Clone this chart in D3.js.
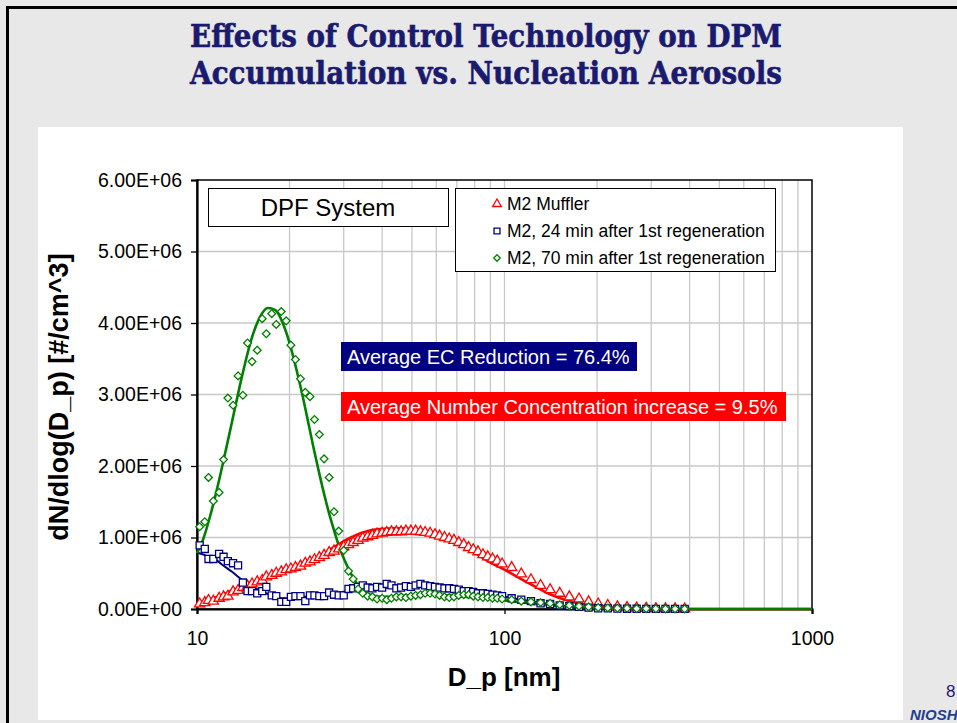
<!DOCTYPE html>
<html>
<head>
<meta charset="utf-8">
<script src="https://cdn.jsdelivr.net/npm/d3@7/dist/d3.min.js"></script>
<style>
  html, body { margin: 0; padding: 0; background: #e8e8e8; }
  svg { display: block; }
</style>
</head>
<body>
<svg></svg>
<script>
var width = 957;
var height = 723;

// SMPS channel mid-points [nm]
var dpChannels = [10.2, 10.6, 10.9, 11.3, 11.8, 12.2, 12.6, 13.1, 13.6, 14.1,
   14.6, 15.1, 15.7, 16.3, 16.8, 17.5, 18.1, 18.8, 19.5, 20.2,
   20.9, 21.7, 22.5, 23.3, 24.1, 25.0, 25.9, 26.9, 27.9, 28.9,
   30.0, 31.1, 32.2, 33.4, 34.6, 35.9, 37.2, 38.5, 40.0, 41.4,
   42.9, 44.5, 46.1, 47.8, 49.6, 51.4, 53.3, 55.2, 57.3, 59.4,
   61.5, 63.8, 66.1, 68.5, 71.0, 73.7, 76.4, 79.1, 82.0, 85.1,
   88.2, 91.4, 94.7, 98.2,
   105.5, 113.4, 121.9, 131.0, 140.7, 151.2, 162.5, 174.7, 187.7, 201.7,
   216.7, 232.9, 250.3, 269.0, 289.0, 310.6, 333.8, 358.7, 385.4];

// measured dN/dlog(Dp), in 1E+06 #/cm^3
var mufflerN = [0.07, 0.09, 0.12, 0.11, 0.15, 0.17, 0.18, 0.24, 0.26, 0.30,
   0.32, 0.35, 0.38, 0.40, 0.45, 0.47, 0.50, 0.52, 0.55, 0.56,
   0.58, 0.60, 0.64, 0.66, 0.69, 0.72, 0.75, 0.79, 0.81, 0.84,
   0.87, 0.90, 0.93, 0.96, 0.99, 1.01, 1.03, 1.05, 1.06, 1.07,
   1.08, 1.08, 1.08, 1.09, 1.09, 1.09, 1.08, 1.07, 1.06, 1.04,
   1.02, 1.00, 0.98, 0.96, 0.93, 0.90, 0.86, 0.83, 0.80, 0.76,
   0.73, 0.70, 0.67, 0.63,
   0.58, 0.49, 0.41, 0.33, 0.27, 0.22, 0.17, 0.14, 0.10, 0.07,
   0.05, 0.03, 0.02, 0.015, 0.01, 0.005, 0.003, 0.002, 0.001];

var regen24N = [0.89, 0.84, 0.70, 0.70, 0.77, 0.73, 0.67, 0.64, 0.61, 0.37,
   0.25, 0.25, 0.22, 0.25, 0.31, 0.19, 0.18, 0.10, 0.10, 0.17,
   0.18, 0.18, 0.11, 0.19, 0.19, 0.18, 0.18, 0.23, 0.20, 0.19,
   0.19, 0.28, 0.29, 0.31, 0.33, 0.30, 0.29, 0.31, 0.30, 0.35,
   0.33, 0.29, 0.30, 0.32, 0.31, 0.33, 0.35, 0.33, 0.32, 0.31,
   0.30, 0.29, 0.29, 0.28, 0.27, 0.25, 0.25, 0.24, 0.22, 0.22,
   0.21, 0.20, 0.19, 0.18,
   0.15, 0.13, 0.11, 0.08, 0.07, 0.05, 0.04, 0.03, 0.02, 0.01,
   0.008, 0.005, 0.004, 0.003, 0.002, 0.002, 0.001, 0.001, 0.001];

var regen70N = [1.15, 1.22, 1.84, 1.51, 1.63, 2.09, 2.95, 2.85, 3.26, 2.99,
   3.72, 3.46, 3.62, 4.06, 3.85, 4.13, 3.98, 4.16, 4.03, 3.69,
   3.49, 3.22, 3.03, 2.97, 2.65, 2.44, 2.10, 1.84, 1.36, 1.09,
   0.82, 0.53, 0.42, 0.28, 0.22, 0.18, 0.17, 0.14, 0.15, 0.13,
   0.15, 0.17, 0.17, 0.16, 0.18, 0.19, 0.20, 0.22, 0.22, 0.21,
   0.19, 0.17, 0.16, 0.17, 0.19, 0.20, 0.20, 0.18, 0.17, 0.16,
   0.16, 0.15, 0.15, 0.14,
   0.13, 0.11, 0.10, 0.09, 0.08, 0.06, 0.05, 0.04, 0.03, 0.02,
   0.015, 0.01, 0.01, 0.005, 0.005, 0.003, 0.002, 0.002, 0.001];

// fitted curves
var fitDp = [10, 10.5, 11, 11.5, 12, 13, 14, 15, 16, 17,
   18, 19, 20, 21, 22, 23, 24, 25, 26, 27,
   28, 29, 30, 32, 34, 36, 38, 40, 43, 46,
   50, 55, 60, 65, 70, 80, 90, 100, 110, 125,
   140, 160, 180, 200, 230, 260, 300, 400, 600, 1000];

var mufflerFit = [0.06, 0.10, 0.13, 0.16, 0.19, 0.26, 0.31, 0.37, 0.41, 0.46,
   0.50, 0.54, 0.57, 0.60, 0.63, 0.67, 0.70, 0.74, 0.78, 0.83,
   0.87, 0.91, 0.95, 1.01, 1.06, 1.09, 1.11, 1.12, 1.13, 1.13,
   1.12, 1.09, 1.05, 1.00, 0.94, 0.79, 0.65, 0.55, 0.45, 0.32,
   0.21, 0.12, 0.07, 0.04, 0.015, 0.007, 0.003, 0.001, 0, 0];

var regen24Fit = [0.79, 0.76, 0.72, 0.69, 0.63, 0.52, 0.41, 0.32, 0.26, 0.21,
   0.17, 0.15, 0.15, 0.16, 0.17, 0.17, 0.18, 0.19, 0.20, 0.21,
   0.22, 0.23, 0.24, 0.26, 0.27, 0.28, 0.29, 0.30, 0.30, 0.31,
   0.31, 0.31, 0.30, 0.29, 0.27, 0.24, 0.20, 0.17, 0.14, 0.10,
   0.07, 0.04, 0.02, 0.01, 0.005, 0.002, 0.001, 0, 0, 0];

var regen70Fit = [0.78, 0.99, 1.28, 1.60, 1.94, 2.62, 3.25, 3.76, 4.08, 4.21,
   4.18, 4.00, 3.72, 3.37, 3.00, 2.61, 2.23, 1.89, 1.58, 1.31,
   1.08, 0.87, 0.71, 0.46, 0.29, 0.21, 0.18, 0.17, 0.17, 0.18,
   0.19, 0.20, 0.20, 0.19, 0.18, 0.16, 0.14, 0.12, 0.10, 0.07,
   0.05, 0.03, 0.02, 0.01, 0.005, 0.002, 0.001, 0, 0, 0];

var seriesNames = ['M2 Muffler', 'M2, 24 min after 1st regeneration', 'M2, 70 min after 1st regeneration'];
var seriesColors = ['#ff0000', '#000080', '#008000'];

var yTicks = [0, 1, 2, 3, 4, 5, 6];
var xTicks = [10, 100, 1000];
var xGrid = [20, 30, 40, 50, 60, 70, 80, 90, 100, 200, 300, 400, 500, 600, 700, 800, 900];

// excel-like diamond: equal width and height
var symbolDiamondSq = {
   draw: function(context, size) {
      var r = Math.sqrt(size / 2);
      context.moveTo(0, -r);
      context.lineTo(r, 0);
      context.lineTo(0, r);
      context.lineTo(-r, 0);
      context.closePath();
   }
};
var seriesSymbols = [d3.symbolTriangle, d3.symbolSquare, symbolDiamondSq];
var symbolSizes = [46, 50, 30];

var svg = d3.select('svg')
   .attr('width', width)
   .attr('height', height)
;

// slide background and border
svg.append('rect')
   .attr('x', 0).attr('y', 0)
   .attr('width', width).attr('height', height)
   .attr('fill', '#e8e8e8')
;
svg.append('path')
   .attr('d', 'M7.5,' + height + 'V7.5H' + width)
   .attr('fill', 'none')
   .attr('stroke', '#000')
   .attr('stroke-width', 3)
;

// title
var titleLines = ['Effects of Control Technology on DPM', 'Accumulation vs. Nucleation Aerosols'];
svg.selectAll('text.title')
   .data(titleLines)
   .enter()
   .append('text')
   .attr('class', 'title')
   .attr('x', 486)
   .attr('y', function(d, i) { return 47 + i * 37; })
   .attr('text-anchor', 'middle')
   .attr('textLength', 592)
   .attr('lengthAdjust', 'spacingAndGlyphs')
   .style('font-family', '"DejaVu Serif", "Liberation Serif", serif')
   .style('font-weight', 'bold')
   .style('font-size', '31px')
   .style('fill', '#1a1a6e')
   .style('stroke', '#1a1a6e')
   .style('stroke-width', 0.6)
   .text(function(d) { return d; })
;

// chart area
svg.append('rect')
   .attr('x', 38).attr('y', 127)
   .attr('width', 865).attr('height', 593)
   .attr('fill', '#fff')
;

var x = d3.scaleLog().domain([10, 1000]).range([197, 812]);
var y = d3.scaleLinear().domain([0, 6]).range([609, 180]);

var g = svg.append('g');

// grid
g.selectAll('line.vgrid')
   .data(xGrid)
   .enter()
   .append('line')
   .attr('x1', function(d) { return x(d); })
   .attr('x2', function(d) { return x(d); })
   .attr('y1', y(6)).attr('y2', y(0))
   .attr('stroke', '#c8c8c8')
   .attr('stroke-width', 1.3)
;
g.selectAll('line.hgrid')
   .data([1, 2, 3, 4, 5])
   .enter()
   .append('line')
   .attr('x1', x(10)).attr('x2', x(1000))
   .attr('y1', function(d) { return y(d); })
   .attr('y2', function(d) { return y(d); })
   .attr('stroke', '#c8c8c8')
   .attr('stroke-width', 1.3)
;

// plot frame
g.append('rect')
   .attr('x', x(10)).attr('y', y(6))
   .attr('width', x(1000) - x(10)).attr('height', y(0) - y(6))
   .attr('fill', 'none')
   .attr('stroke', '#000')
   .attr('stroke-width', 1.5)
;

function sciLabel(v) {
   return v === 0 ? '0.00E+00' : v.toFixed(2) + 'E+06';
}

var yAxis = g.append('g')
   .attr('transform', 'translate(' + x(10) + ',0)')
   .call(d3.axisLeft(y).tickValues(yTicks).tickSize(6).tickPadding(9).tickFormat(sciLabel))
;
var xAxis = g.append('g')
   .attr('transform', 'translate(0,' + y(0) + ')')
   .call(d3.axisBottom(x).tickValues(xTicks).tickSize(5).tickPadding(17).tickFormat(d3.format('d')))
;
[yAxis, xAxis].forEach(function(a) {
   a.select('.domain').attr('stroke', '#000').attr('stroke-width', 2.2);
   a.selectAll('.tick line').attr('stroke', '#000').attr('stroke-width', 1.3);
   a.selectAll('.tick text')
      .style('font-family', 'Arial, "Liberation Sans", sans-serif')
      .style('font-size', '19.5px')
      .style('fill', '#000');
});

// axis titles
svg.append('text')
   .attr('transform', 'translate(68,397) rotate(-90)')
   .attr('text-anchor', 'middle')
   .style('font-family', 'Arial, "Liberation Sans", sans-serif')
   .style('font-weight', 'bold')
   .style('font-size', '27px')
   .text('dN/dlog(D_p) [#/cm^3]')
;
svg.append('text')
   .attr('x', 504).attr('y', 686)
   .attr('text-anchor', 'middle')
   .style('font-family', 'Arial, "Liberation Sans", sans-serif')
   .style('font-weight', 'bold')
   .style('font-size', '26px')
   .text('D_p [nm]')
;

// fitted lines
var fits = [mufflerFit, regen24Fit, regen70Fit];
var line = d3.line()
   .x(function(d) { return x(d[0]); })
   .y(function(d) { return y(d[1]); })
   .curve(d3.curveMonotoneX)
;
fits.forEach(function(vals, s) {
   g.append('path')
      .datum(fitDp.map(function(dp, i) { return [dp, vals[i]]; }))
      .attr('d', line)
      .attr('fill', 'none')
      .attr('stroke', seriesColors[s])
      .attr('stroke-width', s == 1 ? 2 : 2.6)
   ;
});

// measured points
var measured = [mufflerN, regen24N, regen70N];
measured.forEach(function(vals, s) {
   g.selectAll('path.m' + s)
      .data(dpChannels.map(function(dp, i) { return [dp, vals[i]]; }))
      .enter()
      .append('path')
      .attr('class', 'm' + s)
      .attr('transform', function(d) { return 'translate(' + x(d[0]) + ',' + y(d[1]) + ')'; })
      .attr('d', d3.symbol().type(seriesSymbols[s]).size(symbolSizes[s]))
      .attr('fill', '#fff')
      .attr('stroke', seriesColors[s])
      .attr('stroke-width', 1.3)
   ;
});

// DPF System label
svg.append('rect')
   .attr('x', 208.5).attr('y', 188.5)
   .attr('width', 240).attr('height', 38)
   .attr('fill', '#fff')
   .attr('stroke', '#000')
   .attr('stroke-width', 1)
;
svg.append('text')
   .attr('x', 328).attr('y', 216)
   .attr('text-anchor', 'middle')
   .style('font-family', 'Arial, "Liberation Sans", sans-serif')
   .style('font-size', '24px')
   .text('DPF System')
;

// legend
var legend = svg.append('g');
legend.append('rect')
   .attr('x', 455.5).attr('y', 188.5)
   .attr('width', 320).attr('height', 83)
   .attr('fill', '#fff')
   .attr('stroke', '#000')
   .attr('stroke-width', 1)
;
var items = legend.selectAll('g.item')
   .data(seriesNames)
   .enter()
   .append('g')
   .attr('transform', function(d, i) { return 'translate(497,' + (204 + i * 27) + ')'; })
;
items.append('path')
   .attr('d', function(d, i) { return d3.symbol().type(seriesSymbols[i]).size(symbolSizes[i] * 0.7)(); })
   .attr('fill', '#fff')
   .attr('stroke', function(d, i) { return seriesColors[i]; })
   .attr('stroke-width', 1.3)
;
items.append('text')
   .attr('x', 10).attr('dy', '0.36em')
   .style('font-family', 'Arial, "Liberation Sans", sans-serif')
   .style('font-size', '17.5px')
   .text(function(d) { return d; })
;

// annotation boxes
var notes = [
   { text: 'Average EC Reduction = 76.4%', fill: '#000080', y: 342, w: 296 },
   { text: 'Average Number Concentration increase = 9.5%', fill: '#ff0000', y: 392, w: 445 }
];
var note = svg.selectAll('g.note')
   .data(notes)
   .enter()
   .append('g')
;
note.append('rect')
   .attr('x', 341)
   .attr('y', function(d) { return d.y; })
   .attr('width', function(d) { return d.w; })
   .attr('height', 29)
   .attr('fill', function(d) { return d.fill; })
;
note.append('text')
   .attr('x', 347)
   .attr('y', function(d) { return d.y + 22; })
   .style('font-family', 'Arial, "Liberation Sans", sans-serif')
   .style('font-size', '20px')
   .style('fill', '#fff')
   .text(function(d) { return d.text; })
;

// page number and logo
svg.append('text')
   .attr('x', 946).attr('y', 697)
   .style('font-family', 'Arial, "Liberation Sans", sans-serif')
   .style('font-size', '17px')
   .style('fill', '#1a1a6e')
   .text('8')
;
svg.append('text')
   .attr('x', 910).attr('y', 720)
   .style('font-family', 'Arial, "Liberation Sans", sans-serif')
   .style('font-weight', 'bold')
   .style('font-style', 'italic')
   .style('font-size', '15px')
   .style('fill', '#1f3f8f')
   .text('NIOSH')
;
</script>
</body>
</html>
